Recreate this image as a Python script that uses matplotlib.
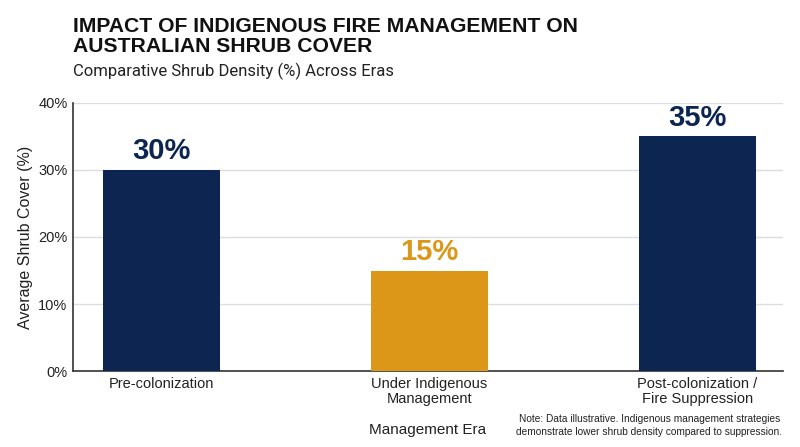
import matplotlib
matplotlib.use("Agg")
import matplotlib.pyplot as plt
from matplotlib.ticker import FuncFormatter

categories = ["Pre-colonization", "Under Indigenous\nManagement", "Post-colonization /\nFire Suppression"]
values = [30, 15, 35]
colors = ["#0c2551", "#dc9719", "#0c2551"]
yticks = [0, 10, 20, 30, 40]

plt.rcParams['font.family'] = ['Liberation Sans', 'DejaVu Sans']

fig = plt.figure(figsize=(8, 4.47), dpi=100)
ax = fig.add_axes([0.09125, 0.170, 0.8875, 0.5996])

x = list(range(len(categories)))
ax.bar(x, values, width=0.435, color=colors, zorder=3)
for xi, v, c in zip(x, values, colors):
    ax.text(xi, v + 0.7, f"{v}%", ha="center", va="bottom", fontsize=21,
            fontweight="bold", color=c, zorder=4)

ax.set_xlim(-0.33, 2.32)
ax.set_ylim(0, 40)
ax.set_yticks(yticks)
ax.yaxis.set_major_formatter(FuncFormatter(lambda v, p: f"{int(v)}%"))
ax.set_xticks(x)
ax.set_xticklabels(categories, fontsize=10.5, color="#222222", linespacing=1.15)
ax.tick_params(axis="y", labelsize=10.5, length=0, pad=4, labelcolor="#222222")
ax.tick_params(axis="x", length=0, pad=4)
ax.grid(axis="y", color="#dddddd", linewidth=1, zorder=0)
for s in ["top", "right"]:
    ax.spines[s].set_visible(False)
for s in ["left", "bottom"]:
    ax.spines[s].set_color("#333333")
    ax.spines[s].set_linewidth(1.2)

ax.set_ylabel("Average Shrub Cover (%)", fontsize=11.5, color="#222222", labelpad=4)
ax.set_xlabel("Management Era", fontsize=11, color="#222222", labelpad=12)

fig.text(0.0912, 0.962, "IMPACT OF INDIGENOUS FIRE MANAGEMENT ON\nAUSTRALIAN SHRUB COVER",
         ha="left", va="top", fontsize=15.2, fontweight="bold", color="#111111",
         linespacing=1.05)
fig.text(0.0912, 0.86, "Comparative Shrub Density (%) Across Eras", ha="left", va="top",
         fontsize=12, color="#222222", family=["Roboto", "DejaVu Sans"])
fig.text(0.978, 0.022, "Note: Data illustrative. Indigenous management strategies\n"
         "demonstrate lower shrub density compared to suppression.",
         ha="right", va="bottom", fontsize=7.3, color="#222222", multialignment="center",
         linespacing=1.4)

fig.savefig("out.png", dpi=100)
